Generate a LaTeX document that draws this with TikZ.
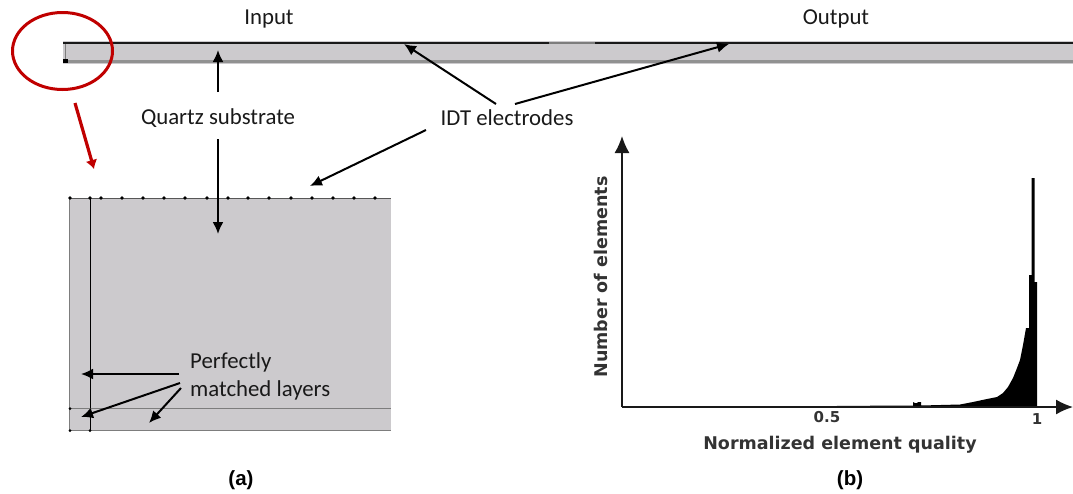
\documentclass[tikz,border=0pt]{standalone}
\usepackage{fontspec}
\setmainfont{Carlito}
\newfontfamily\capfont[Scale=1]{Liberation Sans}
\newfontfamily\plotfont{DejaVu Sans}
\usetikzlibrary{arrows.meta}
\definecolor{quartz}{RGB}{204,202,205}
\definecolor{redmark}{RGB}{192,0,0}
\definecolor{edgegray}{RGB}{125,125,125}
\tikzset{
  lbl/.style={inner sep=0pt,font=\fontsize{22.8}{28.5}\selectfont,text=black!90},
  captionlbl/.style={inner sep=0pt,font=\capfont\bfseries\fontsize{20.5}{24}\selectfont},
  plotlbl/.style={inner sep=0pt,text=black!80,font=\plotfont\bfseries\fontsize{17.5}{20}\selectfont},
  ticklbl/.style={inner sep=0pt,text=black!80,font=\plotfont\bfseries\fontsize{15}{18}\selectfont},
  callout/.style={draw=black,line width=2pt,-{Latex[length=12pt,width=11pt]}},
  axisline/.style={draw=black!90,line width=1.5pt,-{Latex[length=17pt,width=15pt]}},
  meshline/.style={draw=black,line width=.7pt},
  grayline/.style={draw=edgegray,line width=1.5pt},
  meshdot/.style={circle,fill=black,inner sep=0pt,minimum size=3.8pt},
}
\begin{document}
\begin{tikzpicture}[x=1pt,y=-1pt]
\useasboundingbox (0,0) rectangle (1073,493);
% top strip
\fill[quartz] (63,41) rectangle (1073,64);
\fill[edgegray!85] (63,59.5) rectangle (1073,63);
\draw[edgegray,line width=1.5pt] (65.5,42) -- (65.5,62);
\fill[black] (63,58.5) rectangle (67.5,63);
\draw[black!90,line width=2pt] (63,42.5) -- (549,42.5);
\draw[edgegray,line width=2pt] (549,42.5) -- (595,42.5);
\draw[black!90,line width=2pt] (595,42.5) -- (1073,42.5);
% coordinates on the strip
\coordinate (substrateTop) at (218,50);
\coordinate (idtA) at (404,44);
\coordinate (idtB) at (729,44);
\coordinate (idtC) at (310,186);
\coordinate (substrateLow) at (218,234);
\coordinate (pmlA) at (81,374);
\coordinate (pmlB) at (81,417);
\coordinate (pmlC) at (149,423);
\coordinate (zoomFrom) at (75,103);
\coordinate (zoomTo) at (94,169);
% zoomed block
\fill[quartz] (69,198) rectangle (391,431);
\draw[grayline] (69.5,198) -- (69.5,431);
\draw[meshline] (90.5,198) -- (90.5,431);
\draw[edgegray!70!black,line width=1pt] (69,198) -- (391,198);
\draw[edgegray,line width=1.2pt] (69,408.5) -- (391,408.5);
\draw[edgegray,line width=1.2pt] (69,430.5) -- (391,430.5);
\foreach \px in {70,90,101,122,143,164,185,207,228,248,269,291,312,333,354,375}
  \node[meshdot] at (\px,198) {};
\foreach \px/\py in {70/408.5,70/430.5,90/430.5}
  \node[meshdot,minimum size=3pt] at (\px,\py) {};
% labels
\node[lbl] (input) at (269,19.5) {Input};
\node[lbl] (output) at (836,19) {Output};
\node[lbl] (quartzsub) at (218,118) {Quartz substrate};
\node[lbl] (idt) at (507,118) {IDT electrodes};
\node[lbl,align=left,anchor=north west] (pml) at (190,352) {Perfectly\\matched layers};
% callouts
\draw[callout] (218,92) -- (substrateTop);
\draw[callout] (218,139) -- (substrateLow);
\draw[callout] (496,104) -- (idtA);
\draw[callout] (515,104) -- (idtB);
\draw[callout] (426,130) -- (idtC);
\draw[callout] (179,374) -- (pmlA);
\draw[callout] (180,383) -- (pmlB);
\draw[callout] (181,388) -- (pmlC);
% red circle and arrow
\draw[redmark,line width=3pt] (62.5,51) ellipse [x radius=50,y radius=38.5];
\draw[redmark,line width=3.2pt,-{Latex[length=9pt,width=12pt]}] (zoomFrom) -- (zoomTo);
% histogram
\fill[black] (622,407) -- (800,406.3) -- (860,405.8) -- (913,405.5) -- (913,402) -- (915,403) -- (917,403) -- (918,402) -- (921,402) -- (921,405.5)
  -- (960,404.5) -- (973,402) -- (987,399) -- (997,397) -- (1003,393) -- (1008,387) -- (1013,378) -- (1017,368) -- (1020,360) -- (1023,345) -- (1026,328) -- (1029,328) -- (1029,275) -- (1031.5,275)
  -- (1031.5,178) -- (1034.5,178) -- (1034.5,282) -- (1037,282) -- (1037,407) -- cycle;
\coordinate (origin) at (622,407);
\coordinate (yEnd) at (622,136);
\coordinate (xEnd) at (1073,407);
\draw[axisline] (origin) -- (yEnd);
\draw[axisline] (origin) -- (xEnd);
\node[plotlbl,rotate=90] (ylabel) at (601,277) {Number of elements};
\node[ticklbl] (t05) at (827,417) {0.5};
\node[ticklbl] (t1) at (1037,419) {1};
\node[plotlbl] (xlabel) at (840,445) {Normalized element quality};
\node[captionlbl] (capa) at (241,480) {(a)};
\node[captionlbl] (capb) at (850,480) {(b)};
\end{tikzpicture}
\end{document}
